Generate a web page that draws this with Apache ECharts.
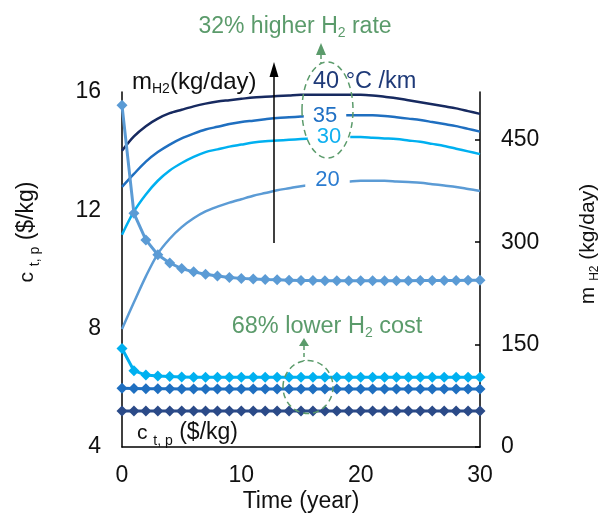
<!DOCTYPE html>
<html>
<head>
<meta charset="utf-8">
<script src="https://cdn.jsdelivr.net/npm/echarts@6/dist/echarts.min.js"></script>
<style>html,body{margin:0;padding:0;background:#fff;}#c{width:603px;height:514px;}</style>
</head>
<body>
<div id="c"></div>
<script>
// ---- data ----
const years = [0,1,2,3,4,5,6,7,8,9,10,11,12,13,14,15,16,17,18,19,20,21,22,23,24,25,26,27,28,29,30];
// hydrogen rate m_H2 (kg/day), right axis
const mH2_40 = [434,455,470,481,489,494,499,503,506,508,510,512,513,514,515,516,516,516,516,516,516,515,513,511,508,505,502,499,496,492,488];
const mH2_35 = [381,400,418,432,443,452,459,465,469,473,476,478,480,482,483,484,485,486,486,486,486,486,485,483,481,479,476,473,470,466,462];
const mH2_30 = [311,345,370,390,405,416,425,432,436,440,443,446,448,449,450,451,452,453,454,454,454,453,452,451,449,447,444,441,437,433,429];
const mH2_20 = [173,212,250,283,305,322,335,345,352,358,363,368,372,376,379,382,384,386,388,389,390,390,390,389,388,387,385,383,381,378,375];
// hydrogen cost c_t,p ($/kg), left axis
const cost_20 = [15.55,11.9,11.0,10.5,10.22,10.03,9.92,9.84,9.78,9.73,9.70,9.68,9.66,9.65,9.64,9.63,9.63,9.62,9.62,9.62,9.62,9.62,9.62,9.62,9.62,9.63,9.63,9.63,9.63,9.64,9.64];
const cost_30 = [7.33,6.58,6.43,6.40,6.38,6.37,6.36,6.36,6.36,6.36,6.36,6.36,6.36,6.36,6.36,6.36,6.36,6.36,6.36,6.36,6.36,6.36,6.36,6.36,6.36,6.36,6.36,6.36,6.36,6.36,6.36];
const cost_35 = [5.99,5.98,5.97,5.97,5.97,5.96,5.96,5.96,5.96,5.96,5.96,5.96,5.96,5.96,5.96,5.96,5.96,5.96,5.96,5.96,5.96,5.96,5.96,5.96,5.96,5.96,5.96,5.96,5.96,5.96,5.96];
const cost_40 = [5.22,5.22,5.22,5.22,5.22,5.22,5.22,5.22,5.22,5.22,5.22,5.22,5.22,5.22,5.22,5.22,5.22,5.22,5.22,5.22,5.22,5.22,5.22,5.22,5.22,5.22,5.22,5.22,5.22,5.22,5.22];
const xTicks = [0,10,20,30];
const leftTicks = [4,8,12,16];
const rightTicks = [0,150,300,450];

// ---- styling ----
const FONT = 'Liberation Sans, Arial, sans-serif';
const C40 = '#172a60', C35 = '#1f6fc0', C30 = '#00b0f0', C20 = '#5b9bd5';
const C40m = '#2b4a88';
const GREEN = '#5b9b6b';
const INK = '#111';

function pairs(v){ return years.map((t,i)=>[t, v[i]]); }
function rateSeries(name, v, color){
  return {name, type:'line', yAxisIndex:1, data:pairs(v), showSymbol:false, symbol:'none', smooth:0.3,
    lineStyle:{color, width:2.5}, z:2, silent:true, animation:false};
}
function costSeries(name, v, color){
  return {name, type:'line', yAxisIndex:0, data:pairs(v), symbol:'diamond', symbolSize:11, showAllSymbol:true,
    itemStyle:{color}, lineStyle:{color, width:3}, z:3, silent:true, animation:false};
}

const sub = (size, lh, fill) => ({fontSize:size, fontFamily:FONT, lineHeight:lh, verticalAlign:'bottom', fill});
const main = (size, lh, fill) => ({fontSize:size, fontFamily:FONT, lineHeight:lh, fill});

const chart = echarts.init(document.getElementById('c'), null, {renderer:'canvas'});
chart.setOption({
  backgroundColor:'#fff',
  animation:false,
  grid:{left:122, right:123, top:92, bottom:67, containLabel:false, outerBoundsMode:'none'},
  xAxis:{type:'value', min:0, max:30, interval:10,
    axisLine:{show:true, onZero:false, lineStyle:{color:'#000', width:1.5}},
    axisTick:{show:false}, splitLine:{show:false},
    axisLabel:{fontSize:23, fontFamily:FONT, color:INK, margin:17, customValues:xTicks}},
  yAxis:[
    {type:'value', min:4, max:16, interval:4, position:'left',
      axisLine:{show:true, lineStyle:{color:'#000', width:1.5}},
      axisTick:{show:false}, splitLine:{show:false},
      axisLabel:{fontSize:23, fontFamily:FONT, color:INK, margin:21, customValues:leftTicks}},
    {type:'value', min:0, max:520, position:'right',
      axisLine:{show:true, lineStyle:{color:'#000', width:1.5}},
      axisTick:{show:true, inside:true, length:5, lineStyle:{color:'#000', width:1.5}, customValues:rightTicks},
      splitLine:{show:false},
      axisLabel:{fontSize:23, fontFamily:FONT, color:INK, margin:21, customValues:rightTicks}}
  ],
  series:[
    rateSeries('m_H2 20 °C/km', mH2_20, C20),
    rateSeries('m_H2 30 °C/km', mH2_30, C30),
    rateSeries('m_H2 35 °C/km', mH2_35, C35),
    rateSeries('m_H2 40 °C/km', mH2_40, C40),
    costSeries('c_t,p 20 °C/km', cost_20, C20),
    costSeries('c_t,p 30 °C/km', cost_30, C30),
    costSeries('c_t,p 35 °C/km', cost_35, C35),
    costSeries('c_t,p 40 °C/km', cost_40, C40m)
  ],
  graphic:[
    // axis titles
    {type:'text', x:301, y:502, z:100,
      style:{text:'Time (year)', font:'23px '+FONT, fill:INK, align:'center', verticalAlign:'middle'}},
    {type:'text', x:27, y:232, rotation:Math.PI/2, z:100,
      style:{text:'{c|c }{s|t, p}{a| ($/kg)}', align:'center', verticalAlign:'middle', fill:INK,
        rich:{c:main(21,30,INK), a:main(23,30,INK), s:sub(14,13,INK)}}},
    {type:'text', x:588, y:244, rotation:Math.PI/2, z:100,
      style:{text:'{a|m }{s|H2}{a| (kg/day)}', align:'center', verticalAlign:'middle', fill:INK,
        rich:{a:main(21,26,INK), s:sub(12,15,INK)}}},
    // in-plot labels
    {type:'text', x:132, y:82, z:100,
      style:{text:'{a|m}{s|H2}{a|(kg/day)}', align:'left', verticalAlign:'middle', fill:INK,
        rich:{a:main(24,28,INK), s:sub(14,17,INK)}}},
    {type:'text', x:137, y:433, z:100,
      style:{text:'{c|c }{s|t, p}{a| ($/kg)}', align:'left', verticalAlign:'middle', fill:INK,
        rich:{c:main(21,30,INK), a:main(23,30,INK), s:sub(14,13,INK)}}},
    // black arrow
    {type:'line', z:100, shape:{x1:274, y1:243, x2:274, y2:74}, style:{stroke:'#000', lineWidth:1.5}},
    {type:'polygon', z:100, shape:{points:[[274,62],[269.5,77],[278.5,77]]}, style:{fill:'#000'}},
    // gradient labels
    {type:'text', x:313, y:82, z:100, style:{text:'40 °C /km', font:'23.5px '+FONT, fill:'#1f3a78', align:'left', verticalAlign:'middle'}},
    {type:'text', x:325, y:116, z:100, style:{text:'35', font:'22px '+FONT, fill:'#2070c4', align:'center', verticalAlign:'middle', backgroundColor:'#fff', padding:[0,9,0,9]}},
    {type:'text', x:329, y:137, z:100, style:{text:'30', font:'22px '+FONT, fill:'#10b0f0', align:'center', verticalAlign:'middle', backgroundColor:'#fff', padding:[0,9,0,9]}},
    {type:'text', x:327.5, y:180, z:100, style:{text:'20', font:'22px '+FONT, fill:'#2a7bd0', align:'center', verticalAlign:'middle', backgroundColor:'#fff', padding:[0,10,0,10]}},
    // green annotations
    {type:'text', x:295, y:27, z:100,
      style:{text:'{a|32% higher H}{s|2}{a| rate}', align:'center', verticalAlign:'middle', fill:GREEN,
        rich:{a:main(23,27,GREEN), s:sub(14,14,GREEN)}}},
    {type:'polygon', z:101, shape:{points:[[321,43],[316,55],[326,55]]}, style:{fill:GREEN}},
    {type:'line', z:101, shape:{x1:321, y1:55, x2:321, y2:63}, style:{stroke:GREEN, lineWidth:1.5, lineDash:[4,3]}},
    {type:'ellipse', z:101, shape:{cx:327.5, cy:110, rx:25.5, ry:48}, style:{fill:'none', stroke:GREEN, lineWidth:1.5, lineDash:[6,4]}},
    {type:'text', x:327, y:327, z:100,
      style:{text:'{a|68% lower H}{s|2}{a| cost}', align:'center', verticalAlign:'middle', fill:GREEN,
        rich:{a:main(23.5,27,GREEN), s:sub(14,14,GREEN)}}},
    {type:'polygon', z:101, shape:{points:[[304,338],[299,346],[309,346]]}, style:{fill:GREEN}},
    {type:'line', z:101, shape:{x1:304, y1:346, x2:304, y2:361}, style:{stroke:GREEN, lineWidth:1.5, lineDash:[4,3]}},
    {type:'ellipse', z:101, shape:{cx:308, cy:387, rx:25, ry:26.5}, style:{fill:'none', stroke:GREEN, lineWidth:1.5, lineDash:[6,4]}}
  ]
});
</script>
</body>
</html>
